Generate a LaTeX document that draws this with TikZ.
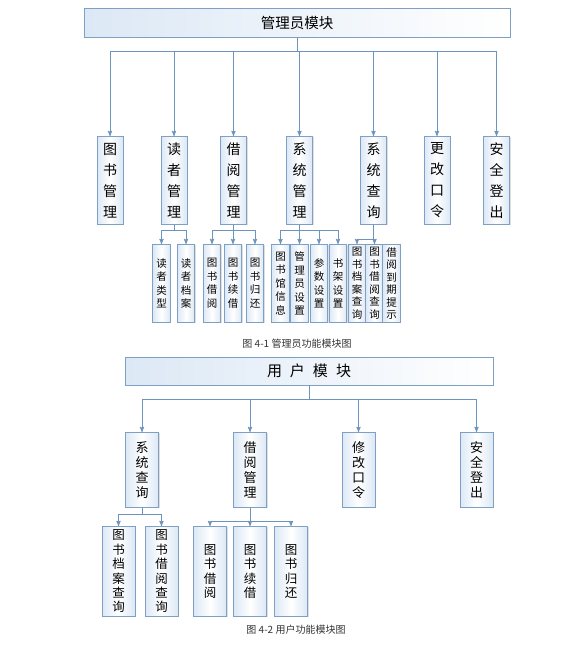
\documentclass[tikz,border=0pt]{standalone}
\usepackage{fontspec}
\setmainfont{Noto Sans CJK SC}
\usepackage{xcolor}
\usetikzlibrary{arrows}
\usetikzlibrary{shadows}
\definecolor{boxline}{RGB}{126,160,196}
\definecolor{wireblue}{RGB}{108,148,188}
\definecolor{boxfill}{RGB}{220,232,245}

\begin{document}
\begin{tikzpicture}[x=1pt,y=-1pt,>=stealth',
    module node/.style={rectangle,draw=boxline,line width=0.8pt,left color=boxfill,right color=white,inner sep=0pt,drop shadow={shadow xshift=1pt,shadow yshift=-1pt,opacity=0.25}},
    main node/.style={rectangle,draw=boxline,line width=0.8pt,left color=boxfill,right color=boxfill,middle color=white,inner sep=0pt,anchor=north,align=center,drop shadow={shadow xshift=1pt,shadow yshift=-1pt,opacity=0.25}},
    sub node/.style={main node,minimum width=17.5pt,minimum height=78pt,font=\fontsize{10.5}{13.5}\selectfont},
    wire/.style={->,draw=wireblue,line width=0.9pt}]

    \useasboundingbox (0,0) rectangle (571,645);

    % administrator module
    \node[module node,minimum width=426pt,minimum height=29pt,font=\fontsize{14.5}{16}\selectfont] (admin) at (297,22.5) {管理员模块};

    \node[main node,minimum width=26pt,minimum height=88pt,font=\fontsize{14}{21}\selectfont] (book-mgmt) at (110,136) {图\\书\\管\\理};
    \node[main node,minimum width=26pt,minimum height=88pt,font=\fontsize{14}{21}\selectfont] (reader-mgmt) at (174,136) {读\\者\\管\\理};
    \node[main node,minimum width=26pt,minimum height=88pt,font=\fontsize{14}{21}\selectfont] (borrow-mgmt) at (233.5,136) {借\\阅\\管\\理};
    \node[main node,minimum width=26pt,minimum height=88pt,font=\fontsize{14}{21}\selectfont] (sys-mgmt) at (299.5,136) {系\\统\\管\\理};
    \node[main node,minimum width=26pt,minimum height=88pt,font=\fontsize{14}{21}\selectfont] (sys-query) at (373.5,136) {系\\统\\查\\询};
    \node[main node,minimum width=26pt,minimum height=88pt,font=\fontsize{14}{21}\selectfont] (change-pwd) at (437,136) {更\\改\\口\\令};
    \node[main node,minimum width=26pt,minimum height=88pt,font=\fontsize{14}{21}\selectfont] (logout) at (496.5,136) {安\\全\\登\\出};

    \node[sub node] (reader-type) at (161.5,244) {读\\者\\类\\型};
    \node[sub node] (reader-file) at (186,244) {读\\者\\档\\案};
    \node[sub node] (book-borrow) at (212,244) {图\\书\\借\\阅};
    \node[sub node] (book-renew) at (233,244) {图\\书\\续\\借};
    \node[sub node] (book-return) at (255,244) {图\\书\\归\\还};
    \node[sub node] (library-info) at (280.5,244) {图\\书\\馆\\信\\息};
    \node[sub node] (admin-set) at (299.5,244) {管\\理\\员\\设\\置};
    \node[sub node] (param-set) at (319,244) {参\\数\\设\\置};
    \node[sub node] (shelf-set) at (338,244) {书\\架\\设\\置};
    \node[sub node,font=\fontsize{10.5}{12.5}\selectfont] (file-query) at (357,244) {图\\书\\档\\案\\查\\询};
    \node[sub node,font=\fontsize{10.5}{12.5}\selectfont] (borrow-query) at (374.5,244) {图\\书\\借\\阅\\查\\询};
    \node[sub node,font=\fontsize{10.5}{12.5}\selectfont] (due-notice) at (391.5,244) {借\\阅\\到\\期\\提\\示};

    \node[font=\fontsize{10}{12}\selectfont,text=black!80] (caption-admin) at (297,344) {图 4-1 管理员功能模块图};

    \draw[wire] (admin.south) -- ++(0,14) -| (book-mgmt.north);
    \draw[wire] (admin.south) -- ++(0,14) -| (reader-mgmt.north);
    \draw[wire] (admin.south) -- ++(0,14) -| (borrow-mgmt.north);
    \draw[wire] (admin.south) -- ++(0,14) -| (sys-mgmt.north);
    \draw[wire] (admin.south) -- ++(0,14) -| (sys-query.north);
    \draw[wire] (admin.south) -- ++(0,14) -| (change-pwd.north);
    \draw[wire] (admin.south) -- ++(0,14) -| (logout.north);

    \draw[wire] (reader-mgmt.south) -- ++(0,6) -| (reader-type.north);
    \draw[wire] (reader-mgmt.south) -- ++(0,6) -| (reader-file.north);
    \draw[wire] (borrow-mgmt.south) -- ++(0,6) -| (book-borrow.north);
    \draw[wire] (borrow-mgmt.south) -- ++(0,6) -| (book-renew.north);
    \draw[wire] (borrow-mgmt.south) -- ++(0,6) -| (book-return.north);
    \draw[wire] (sys-mgmt.south) -- ++(0,6) -| (library-info.north);
    \draw[wire] (sys-mgmt.south) -- ++(0,6) -| (admin-set.north);
    \draw[wire] (sys-mgmt.south) -- ++(0,6) -| (param-set.north);
    \draw[wire] (sys-mgmt.south) -- ++(0,6) -| (shelf-set.north);
    \draw[wire] (sys-query.south) -- ++(0,15) -| (file-query.north);
    \draw[wire] (sys-query.south) -- ++(0,15) -| (borrow-query.north);

    % user module
    \node[module node,minimum width=368pt,minimum height=28pt,font=\fontsize{15}{17}\selectfont] (user) at (309,371) {用\hspace{8pt}户\hspace{8pt}模\hspace{8pt}块};

    \node[main node,minimum width=33pt,minimum height=75pt,font=\fontsize{13}{15.2}\selectfont] (u-query) at (142,432) {系\\统\\查\\询};
    \node[main node,minimum width=33pt,minimum height=75pt,font=\fontsize{13}{15.2}\selectfont] (u-borrow) at (250,432) {借\\阅\\管\\理};
    \node[main node,minimum width=33pt,minimum height=75pt,font=\fontsize{13}{15.2}\selectfont] (u-pwd) at (358.5,432) {修\\改\\口\\令};
    \node[main node,minimum width=33pt,minimum height=75pt,font=\fontsize{13}{15.2}\selectfont] (u-logout) at (476.5,432) {安\\全\\登\\出};

    \node[main node,minimum width=33pt,minimum height=90pt,font=\fontsize{12.5}{14.4}\selectfont] (u-file-query) at (118.5,526) {图\\书\\档\\案\\查\\询};
    \node[main node,minimum width=33pt,minimum height=90pt,font=\fontsize{12.5}{14.4}\selectfont] (u-borrow-query) at (161.5,526) {图\\书\\借\\阅\\查\\询};
    \node[main node,minimum width=33pt,minimum height=90pt,font=\fontsize{12.5}{14.4}\selectfont] (u-book-borrow) at (210,526) {图\\书\\借\\阅};
    \node[main node,minimum width=33pt,minimum height=90pt,font=\fontsize{12.5}{14.4}\selectfont] (u-book-renew) at (250,526) {图\\书\\续\\借};
    \node[main node,minimum width=33pt,minimum height=90pt,font=\fontsize{12.5}{14.4}\selectfont] (u-book-return) at (291,526) {图\\书\\归\\还};

    \node[font=\fontsize{10}{12}\selectfont,text=black!80] (caption-user) at (296,630) {图 4-2 用户功能模块图};

    \draw[wire] (user.south) -- ++(0,14) -| (u-query.north);
    \draw[wire] (user.south) -- ++(0,14) -| (u-borrow.north);
    \draw[wire] (user.south) -- ++(0,14) -| (u-pwd.north);
    \draw[wire] (user.south) -- ++(0,14) -| (u-logout.north);

    \draw[wire] (u-query.south) -- ++(0,7) -| (u-file-query.north);
    \draw[wire] (u-query.south) -- ++(0,7) -| (u-borrow-query.north);
    \draw[wire] (u-borrow.south) -- ++(0,14) -| (u-book-borrow.north);
    \draw[wire] (u-borrow.south) -- ++(0,14) -| (u-book-renew.north);
    \draw[wire] (u-borrow.south) -- ++(0,14) -| (u-book-return.north);

\end{tikzpicture}
\end{document}
